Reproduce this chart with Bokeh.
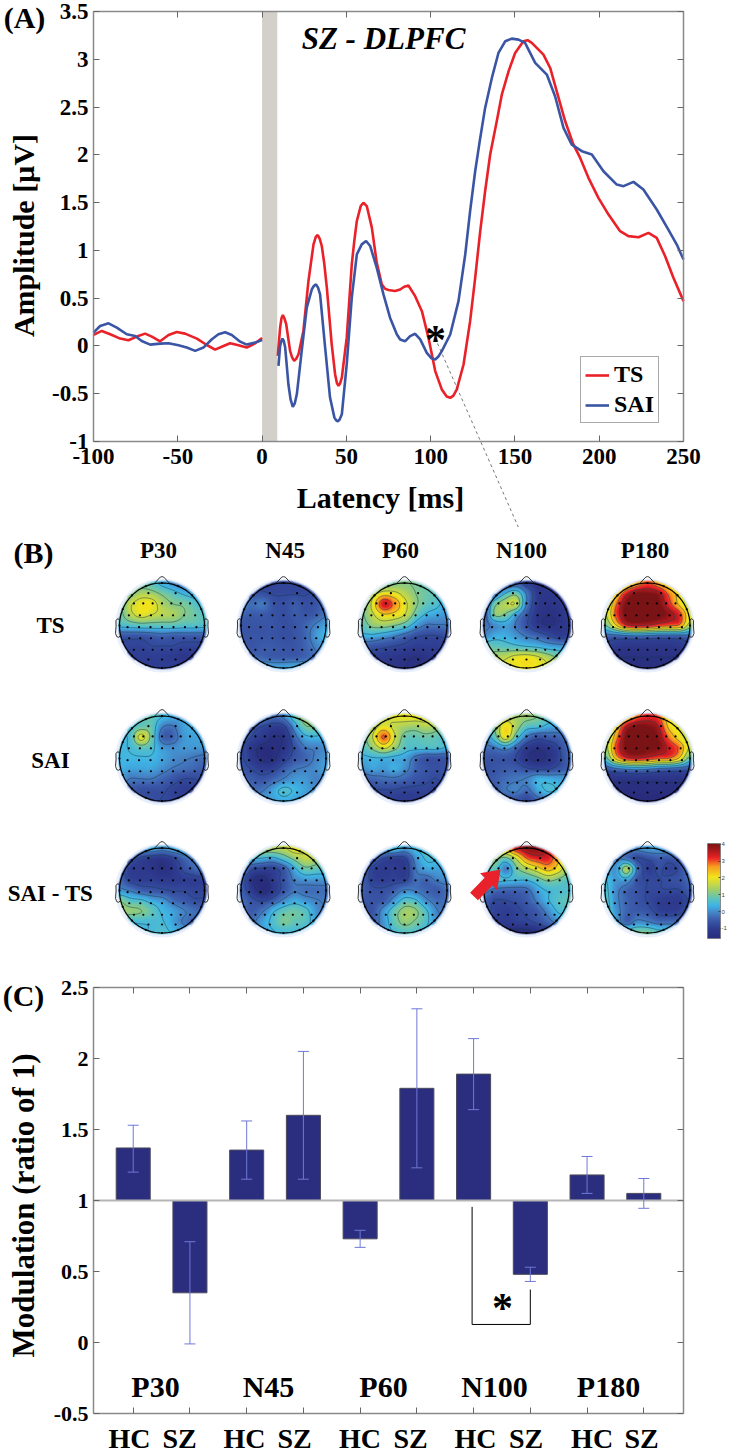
import numpy as np
from bokeh.embed import file_html
from bokeh.resources import INLINE
from bokeh.layouts import column
from bokeh.plotting import figure
from bokeh.models import (Range1d, LinearAxis, FixedTicker, Label, Legend, LegendItem, Arrow, Whisker, TeeHead,
                          ColumnDataSource, ColorBar, LinearColorMapper)
from bokeh.core.properties import value

# ---------- Panel A data ----------
ts_pre_ms = [-100,-95.1,-90.1,-84.2,-79.3,-74.3,-69.4,-65.4,-60.5,-55.5,-50.6,-45.7,-38.7,-32.8,-27.9,-22.9,-19,-14,-9.1,-4.1,0]
ts_pre_uv = [.115,.157,.122,.077,.059,.098,.129,.098,.049,.115,.146,.129,.077,.01,-.038,0,.028,.007,-.017,.028,.084]
sai_pre_ms = [-100,-96.1,-91.1,-86.2,-80.3,-75.3,-71.4,-66.4,-60.5,-55.5,-49.6,-44.7,-39.7,-34.8,-29.8,-25.9,-21.9,-18,-13,-9.1,-4.1,0]
sai_pre_uv = [.139,.209,.237,.192,.122,.105,.052,.014,.024,.028,.007,-.017,-.052,-.017,.07,.122,.143,.115,.045,.014,.035,.063]
ts_post_ms = [9.3,10.7,11.5,12.3,13.2,14.3,16.6,17.8,19,20.2,21.6,24.5,26,27.5,30.5,31.8,33,34.2,35.4,36.9,38.4,41.3,43.3,44.4,45.3,46.3,47.3,50.2,53.2,54.7,56.2,58.5,60.1,62.1,65.1,68,71,72.8,74.9,78.9,
              81.9,84.3,86.8,90.8,94.8,98.7,102.7,106.6,109.5,111.6,113.5,115.5,119.5,123.4,126.4,129.4,132.3,135.3,139.2,142.2,146.2,150.1,155,157.5,160,166.9,170.9,174.8,179.8,184.7,188.7,193.6,199.5,205.5,212.4,217.3,223.3,229.2,234.1,239.1,244,250]
ts_post_uv = [-.105,.192,.29,.324,.29,.227,-.052,-.12,-.157,-.135,-.087,.157,.42,.68,1.063,1.14,1.161,1.12,1.046,.86,.61,.017,-.296,-.39,-.418,-.39,-.331,.087,.854,1.1,1.308,1.464,1.499,1.464,1.238,.872,.645,.6,.586,.575,
              .591,.62,.633,.521,.364,.085,-.263,-.455,-.53,-.543,-.52,-.455,-.194,.259,.713,1.201,1.619,2.003,2.351,2.63,2.874,3.066,3.188,3.2,3.171,3.049,2.909,2.665,2.351,2.107,1.968,1.759,1.55,1.375,1.201,1.149,1.138,1.183,1.131,.939,.713,.469]
sai_post_ms = [9.7,10.7,11.4,12.1,12.9,13.7,15.6,16.9,18.2,19.4,20.6,23.5,26.5,29.5,30.8,32,33.2,34.4,37.4,40.3,42.9,44,44.9,46,47.3,50.2,53.2,56.2,59.1,61.7,64.1,68,72,75.9,79.9,
               81.9,84.9,87.8,90.8,93.8,97.7,100.5,102.7,104.6,106.6,111.6,116.5,120.5,123.4,126.4,129.4,132.3,136.3,140.2,144.2,148.1,152.1,156,162,168.9,173.8,178.8,183.7,189.7,195.6,202.5,210.4,214.4,220.3,226.2,234.1,241,246,250]
sai_post_uv = [-.209,0,.05,.077,.05,-.017,-.401,-.56,-.638,-.6,-.506,-.052,.401,.593,.63,.645,.61,.54,-.017,-.54,-.75,-.78,-.79,-.77,-.715,-.192,.506,.959,1.063,1.098,1.046,.819,.54,.296,.122,
               .068,.05,.103,.127,.068,-.072,-.13,-.142,-.11,-.054,.12,.469,.957,1.41,1.828,2.177,2.491,2.805,3.066,3.188,3.216,3.206,3.171,2.962,2.84,2.613,2.282,2.107,2.038,2.003,1.828,1.689,1.672,1.717,1.637,1.428,1.218,1.061,.904]
a_xticks = [-100,-50,0,50,100,150,200,250]
a_yticks = [-1,-0.5,0,0.5,1,1.5,2,2.5,3,3.5]
a_ylabels = ["-1","-0.5","0","0.5","1","1.5","2","2.5","3","3.5"]
stim_band = [0, 9]

# ---------- Panel C data ----------
bar_groups = ["P30","N45","P60","N100","P180"]
bar_tick_labels = ["HC","SZ"]*5
bar_values = [1.37,0.35,1.355,1.6,0.73,1.79,1.89,0.48,1.18,1.05]
bar_upper = [1.53,0.71,1.56,2.05,0.79,2.35,2.14,0.53,1.31,1.155]
bar_lower = [1.20,-0.01,1.15,1.15,0.67,1.23,1.64,0.43,1.05,0.945]
c_yticks = [-0.5,0,0.5,1,1.5,2,2.5]
c_ylabels = ["-0.5","0","0.5","1","1.5","2","2.5"]

# ---------- Panel B data: scalp maps read on a 9x9 grid, front to back ----------
ts_p30 = [[.6,.8,.8,.7,.3,0,-.3,-.3,-.3],[.8,1,1.4,1.3,1,.7,.4,.2,0],[.9,1.6,2,2,1.4,1.1,1,.7,.4],[.9,1.5,1.9,1.7,1.5,1.4,1.1,.9,.7],[.6,.7,.8,.8,.8,.8,.7,.7,.6],[-.6,-.6,-.6,-.5,-.4,-.5,-.5,-.5,-.5],[-.9,-.9,-.9,-.8,-.8,-.8,-.9,-.9,-.9],[-1,-1,-1,-1,-1,-1.1,-1.2,-1.1,-1],[-1,-1,-1,-1,-1,-1,-1,-1,-1]]
ts_n45 = [[-.9,-.9,-.9,-.9,-.9,-.9,-.9,-.9,-.9],[-.4,-.6,-.7,-.8,-.8,-.8,-.8,-.7,-.4],[-.2,-.3,-.2,-.6,-.7,-.5,-.7,-.6,-.3],[-.4,-.5,-.5,-.6,-.7,-.5,-.6,-.5,-.2],[-.6,-.6,-.6,-.6,-.7,-.6,-.4,-.1,.2],[-.6,-.6,-.6,-.6,-.7,-.6,-.4,.1,.4],[-.5,-.6,-.5,-.5,-.6,-.6,-.4,-.1,.2],[-.1,-.3,-.4,-.5,-.5,-.5,-.4,-.2,.1],[.3,.3,.3,.2,.2,.3,.3,.3,.3]]
ts_p60 = [[.2,.5,.8,1,1.1,1,.8,.6,.4],[.8,1.4,2,1.9,1.5,1.1,.9,.7,.3],[.9,1.9,3.4,2.8,1.9,1.2,.8,.6,.2],[1,1.6,2.2,2.1,1.7,.9,.4,.2,.1],[.8,1.2,1.3,1.1,.8,.2,-.2,-.2,-.2],[.3,.3,.1,-.1,-.4,-.7,-.8,-.8,-.7],[-.5,-.6,-.7,-.8,-.9,-1,-1,-1,-.9],[-.9,-1,-1.1,-1.2,-1.3,-1.4,-1.3,-1.1,-1],[-1.2,-1.2,-1.2,-1.3,-1.4,-1.4,-1.3,-1.2,-1.2]]
ts_n100 = [[-1,-1,-.8,-.6,-1,-1.3,-1.3,-1.2,-1],[-.9,-.4,.5,.9,-.2,-1.1,-1.2,-1.2,-1],[-.5,.9,1.5,1.6,-.2,-1.1,-1.3,-1.2,-1],[-.5,1.1,1,.2,-.6,-1.2,-1.4,-1.3,-1],[-.3,0,.2,-.2,-.7,-1.2,-1.4,-1.3,-1.1],[0,.3,.3,.1,-.2,-.4,-.7,-1,-.9],[.9,.8,.7,.6,.5,.4,.2,.1,0],[1.3,1.4,1.6,1.9,2,1.8,1.4,1,.8],[1.6,1.7,1.9,2,2.1,2,1.8,1.5,1.3]]
ts_p180 = [[.5,1,1.8,2.5,3,2.5,2,1.5,.8],[1,2,3.4,4,4,3.8,2.8,2,1],[1.4,2.8,4.1,4.2,4.2,4.1,3.2,2.2,1.4],[1.6,3,4.2,4.2,4.2,4.2,3.8,3.2,1.8],[1,2.2,3.4,3.6,3.5,3.2,3,2.8,1.4],[-.4,-.4,-.3,-.2,-.3,-.4,-.4,-.4,-.3],[-1,-1.1,-1.2,-1.2,-1.2,-1.2,-1.2,-1.1,-1],[-1.4,-1.4,-1.4,-1.4,-1.4,-1.4,-1.4,-1.4,-1.4],[-1.5,-1.5,-1.5,-1.5,-1.5,-1.5,-1.5,-1.5,-1.5]]
sai_p30 = [[.7,.8,.9,.8,.5,.3,.2,.2,.2],[.5,.6,.8,.8,-.1,-.2,.2,.3,.2],[.4,.6,1.9,.9,-.4,-.4,.1,.2,.2],[.4,.5,.8,.6,.1,0,.1,.1,.1],[.4,.4,.4,.4,.2,0,-.1,-.2,-.3],[.3,.2,.2,.2,0,-.2,-.3,-.4,-.5],[.1,-.2,-.2,-.2,-.4,-.6,-.8,-.8,-.7],[-.2,-.5,-.7,-.7,-.7,-.9,-1,-1,-.9],[-.3,-.5,-.7,-.7,-.8,-.9,-1,-1,-.9]]
sai_n45 = [[.4,.3,.1,-.3,0,.8,1.3,1.2,.9],[0,-.5,-.8,-1,-.9,.1,1,1,.7],[-.5,-.8,-1.1,-1.4,-1.3,-.4,.3,.4,.3],[-.7,-1.2,-1.5,-1.5,-1.3,-.7,-.2,-.1,0],[-.7,-1.1,-1.5,-1.5,-1,-.6,-.4,-.1,.1],[-.6,-.8,-1,-.9,-.5,-.2,-.1,0,.2],[-.4,-.5,-.6,-.4,-.1,.1,.1,-.1,0],[-.2,-.3,-.2,.2,.6,.4,.2,0,-.1],[-.1,-.1,.1,.2,.3,.2,.1,0,0]]
sai_p60 = [[1.2,1.4,1.6,1.9,2,2,1.9,1.6,1.2],[.9,1.4,1.9,1.6,1.4,1.3,1.5,1.3,.9],[.8,1.7,3,1.8,.9,.8,.9,.8,.6],[.7,1.2,1.8,1.3,.7,.6,.6,.6,.4],[.3,.4,.4,.3,.2,-.3,-.6,-.6,-.6],[0,.2,.1,.3,0,-.4,-.6,-.7,-.6],[-.5,-.4,-.3,-.3,-.4,-.6,-.7,-.8,-.6],[-.8,-.8,-.8,-.8,-.9,-.9,-.9,-1,-.9],[-1,-1,-1,-1,-1.1,-1.1,-1,-1,-1]]
sai_n100 = [[.5,1.1,1.3,1.3,1.3,1.1,.8,.7,.5],[.3,1.1,2.1,1.4,.7,.6,.3,.2,.1],[0,.8,2,.8,-.2,-.6,-.5,-.4,-.2],[-.3,-.2,.1,-.4,-1.1,-1.3,-1.2,-.8,-.3],[-.6,-.6,-.6,-.8,-1.3,-1.5,-1.3,-.9,-.4],[-.7,-.6,-.5,-.5,-.7,-.8,-.8,-.6,-.4],[-.6,-.5,-.3,-.2,-.1,.3,.3,.2,.1],[-.6,-.5,-.2,-.1,-.3,.2,.5,.4,.2],[-.8,-.7,-.6,-.6,-.8,-.4,-.1,0,0]]
sai_p180 = [[.6,1,2,2.8,3.2,3,2,1.6,1],[.9,2,3.6,4.1,4,3.6,2.2,1.8,1.2],[1.2,2.6,4.1,4.2,4.1,3.9,2.8,2,1.4],[1.4,3,4.1,4.2,4.1,4,3.4,2.8,1.6],[.8,2.4,3.3,3.5,3.3,3,2.9,2.2,.8],[-.6,-.3,-.1,0,-.1,-.3,-.4,-.5,-.6],[-1.3,-1.3,-1.3,-1.3,-1.3,-1.3,-1.3,-1.3,-1.3],[-1.5,-1.5,-1.5,-1.5,-1.5,-1.5,-1.5,-1.5,-1.5],[-1.6,-1.6,-1.6,-1.6,-1.6,-1.6,-1.6,-1.6,-1.6]]
dif_p30 = [[.1,.1,.2,.3,.1,.3,.4,.3,.2],[0,-.5,-.9,-1.1,-1.2,-.9,-.4,-.1,0],[-.5,-1,-1.1,-1.2,-1.4,-1.2,-.7,-.4,-.2],[-.4,-.9,-1,-1,-1.1,-1.1,-1,-1,-.9],[0,-.2,-.5,-.6,-.7,-.8,-.8,-.9,-.9],[1.1,.7,.6,.3,.1,-.3,-.5,-.7,-.7],[1.2,1.2,1.1,.8,.4,.2,-.1,-.3,-.4],[.7,.5,.5,.5,.5,.2,-.2,-.4,-.4],[.5,.4,.4,.5,.6,.4,.2,0,0]]
dif_n45 = [[.6,1,1.4,1.5,1.6,2,1.7,1.4,1],[.3,.5,.4,.3,.7,1.2,1.6,1.4,1],[-.1,-.7,-.9,-.9,-.5,.3,.9,.8,.7],[-.5,-1.3,-1.6,-1.1,-.6,-.1,.1,.1,.1],[-.5,-1.1,-1.6,-1.2,-.6,-.2,-.3,-.3,-.3],[-.3,-.6,-.8,-.5,0,.3,.1,-.1,-.2],[-.3,-.5,-.2,.4,.8,.9,.7,.1,-.2],[-.3,-.3,.2,.6,1,.8,.7,.2,-.2],[-.4,-.3,.1,.4,.5,.5,.4,.2,-.2]]
dif_p60 = [[.2,.3,.5,.6,.2,.5,.6,.5,.2],[0,-.3,-.8,-1,-.9,0,.5,.5,.3],[-.3,-.9,-1.1,-1,-1.1,-.2,.2,.2,.2],[-.5,-.9,-1,-.9,-.9,-.3,-.4,-.1,0],[-.5,-.7,-.7,-.5,-.1,-.2,-.4,-.5,-.3],[-.6,-.6,-.5,.1,.7,.6,0,-.3,-.3],[-.7,-.6,.1,.8,1.3,1.2,.6,-.1,-.2],[-.7,-.5,.1,.8,1.2,1,.6,0,-.3],[-.7,-.5,0,.5,.7,.6,.3,0,-.2]]
dif_n100 = [[1.5,2,2.6,3.4,3.9,3.9,3.4,2.5,1.8],[1,1.3,.9,1.7,2.9,3.3,3.3,2.4,1.5],[.6,.8,-.1,.9,1.5,2,2.5,2,1.2],[.5,.6,.5,.5,.5,.8,1.2,1,.7],[0,-.3,-.4,-.4,-.3,.2,.5,.6,.6],[-.5,-.8,-.8,-.7,-.5,-.1,.4,.7,.8],[-.6,-.9,-1,-.9,-.7,-.5,0,.5,.5],[-.9,-1.1,-1.1,-1,-.9,-.7,-.4,0,.2],[-1.2,-1.4,-1.5,-1.6,-1.6,-1.4,-1.1,-.8,-.6]]
dif_p180 = [[.2,.1,0,0,.2,.2,.2,.2,.1],[.2,-.1,-.3,-.8,-.7,-.5,-.6,-.4,0],[.3,.1,1.4,-.2,-1,-.7,-.9,-.7,-.1],[.5,.1,.2,-.6,-.8,-.8,-.7,-.6,-.3],[.6,0,-.4,-.6,-.8,-.8,-.8,-.8,-.5],[.7,0,-.4,-.6,-.8,-1,-1.1,-1.1,-.7],[.8,.1,-.4,-.5,-.6,-.9,-1,-.9,-.5],[1,.3,-.4,0,-.1,-.3,-.3,-.3,-.2],[1.2,.9,.9,1,1,.7,.6,.3,.2]]
map_rows = [("TS",[ts_p30,ts_n45,ts_p60,ts_n100,ts_p180]),
            ("SAI",[sai_p30,sai_n45,sai_p60,sai_n100,sai_p180]),
            ("SAI - TS",[dif_p30,dif_n45,dif_p60,dif_n100,dif_p180])]
map_titles = ["P30","N45","P60","N100","P180"]
cbar_ticks = [-1,0,1,2,3,4]
color_stops = [(-1.6,"#292c7c"),(-1.0,"#2f3e92"),(-.5,"#3c5bab"),(-.1,"#4681c4"),(.35,"#3fb4e6"),(.75,"#5cc3c0"),(1.2,"#93cc7a"),(1.6,"#c4d84a"),(2.05,"#f2e61c"),(2.7,"#f89a1f"),(3.2,"#ec2226"),(3.6,"#b01b1e"),(4.05,"#7a1315")]

# electrode layout in head radius units
elec_rows = [(-.76,[-.32,.32]),(-.52,[-.66,-.44,-.22,0,.22,.44,.66]),(-.24,[-.78,-.52,-.26,0,.26,.52,.78]),
             (.04,[-.81,-.54,-.27,0,.27,.54,.81]),(.30,[-.77,-.51,-.26,0,.26,.51,.77]),(.57,[-.66,-.44,-.22,0,.22,.44,.66]),(.80,[-.32,0,.32])]
ear_x = [.994,1.02,1.036,1.06,1.084,1.08,1.094,1.064,1.02,.978]
ear_y = [.111,.155,.157,.149,.111,-.011,-.186,-.263,-.277,-.24]
nose_x = [.18,.04,0,-.04,-.18]
nose_y = [.99,1.14,1.15,1.14,.99]

FONT = "Liberation Serif"
W = 729
AXC = "#8a8a8a"

def hexrgb(h):
    return [int(h[i:i+2],16) for i in (1,3,5)]
sv = np.array([s[0] for s in color_stops])
sc = np.array([hexrgb(s[1]) for s in color_stops],float)
def cmap(z):
    return np.stack([np.interp(z,sv,sc[:,k]) for k in range(3)],-1)
palette = ["#%02x%02x%02x"%tuple(int(c) for c in cmap(v)) for v in np.linspace(-1.6,4.05,256)]

def style_axis(ax, ticks, over, fs, loc, bounds, standoff=5):
    ax.ticker = FixedTicker(ticks=ticks)
    ax.major_label_overrides = {t:l for t,l in zip(ticks,over)}
    ax.fixed_location = loc
    ax.bounds = bounds
    ax.major_tick_in = 6; ax.major_tick_out = 0
    ax.minor_tick_line_color = None
    ax.axis_line_color = AXC; ax.axis_line_width = 1.5
    ax.major_tick_line_color = "#666666"
    ax.major_label_text_font = FONT; ax.major_label_text_font_style = "bold"
    ax.major_label_text_font_size = fs; ax.major_label_text_color = "black"
    ax.major_label_standoff = standoff

def box_axes(p, xticks, yticks, xover, yover, fs, xb, yb):
    style_axis(p.xaxis[0], xticks, xover, fs, yb[0], xb, 7)
    style_axis(p.yaxis[0], yticks, yover, fs, xb[0], yb, 5)
    top = LinearAxis(); right = LinearAxis()
    p.add_layout(top,"above"); p.add_layout(right,"right")
    style_axis(top, xticks, ["" for _ in xticks], "1px", yb[1], xb)
    style_axis(right, yticks, ["" for _ in yticks], "1px", xb[1], yb)
    p.grid.visible = False
    p.outline_line_color = None

def add_label(p, tx, x, y, size, style="bold", angle=0, color="black", align="center"):
    p.add_layout(Label(x=x, y=y, text=tx, text_font=FONT, text_font_style=style, text_font_size=f"{size}px",
                       text_align=align, text_baseline="middle", angle=angle, text_color=color))

# ================= Panel A =================
ax_ = lambda px: (px-261.6)/(590/350)
ay_ = lambda py: -1+(441-py)*4.5/430
HA = 527
pa = figure(width=W, height=HA, x_range=Range1d(ax_(0),ax_(W)), y_range=Range1d(ay_(HA),ay_(0)), output_backend="svg",
            toolbar_location=None, min_border=0)
box_axes(pa, a_xticks, a_yticks, [str(t) for t in a_xticks], a_ylabels, "23px", (-100,250), (-1,3.5))
pa.quad(left=stim_band[0], right=stim_band[1], bottom=-1, top=3.5, fill_color="#d3d0c9", line_color=None)
r1 = pa.line(ts_pre_ms, ts_pre_uv, line_color="#ea2129", line_width=2.6)
pa.line(ts_post_ms, ts_post_uv, line_color="#ea2129", line_width=2.6)
r2 = pa.line(sai_pre_ms, sai_pre_uv, line_color="#3b55a5", line_width=2.6)
pa.line(sai_post_ms, sai_post_uv, line_color="#3b55a5", line_width=2.6)
pa.add_layout(Arrow(end=None, x_start=ax_(437), y_start=ay_(343), x_end=ax_(518), y_end=ay_(527),
                    line_color="#555555", line_width=0.8, line_dash="3 3"))
leg = Legend(items=[LegendItem(label=value("TS"),renderers=[r1]),LegendItem(label=value("SAI"),renderers=[r2])],
             location=(580,HA-423), glyph_width=24, glyph_height=24, label_height=24, spacing=3, padding=4, margin=0,
             label_standoff=5, label_text_font=FONT, label_text_font_style="bold", label_text_font_size="24px", label_text_color="black",
             border_line_color="#555555", border_line_width=1, background_fill_alpha=1)
pa.add_layout(leg)
add_label(pa,"(A)",ax_(24),ay_(17),30)
add_label(pa,"SZ - DLPFC",ax_(383),ay_(38),31,style="bold italic")
add_label(pa,"*",ax_(435),ay_(339),42)
add_label(pa,"Latency [ms]",ax_(380),ay_(497),30)
add_label(pa,"Amplitude [µV]",ax_(23),ay_(235),30,angle=np.pi/2)

# ================= Panel B =================
top_b, h_b = 527, 413
pb = figure(width=W, height=h_b, x_range=Range1d(0,W), y_range=Range1d(0,h_b), output_backend="svg",
            toolbar_location=None, min_border=0)
pb.axis.visible = False; pb.grid.visible = False; pb.outline_line_color = None
Y = lambda py: top_b+h_b-py

def cr_weights(n, t):
    # Catmull-Rom resampling weights from n nodes to positions t (node units)
    W_ = np.zeros((len(t),n))
    for k,u in enumerate(t):
        i = int(np.clip(np.floor(u),0,n-2)); f = u-i
        c = [(-f**3+2*f**2-f)/2,(3*f**3-5*f**2+2)/2,(-3*f**3+4*f**2+f)/2,(f**3-f**2)/2]
        for j,w in zip((i-1,i,i+1,i+2),c):
            W_[k,int(np.clip(j,0,n-1))] += w
    return W_

col_x = [161.5,283,404,526,647]
row_y = [625,758,890]
R = 42.5; HALO = 47; EXT = 1.08
N = 96
uu = np.linspace(-EXT,EXT,N)
tt = (uu+1)/2*8
Wt = cr_weights(9,np.clip(tt,0,8))
UU,VV = np.meshgrid(uu,uu)   # VV positive = towards the back of the head
RR = np.hypot(UU,VV)
th = np.linspace(0,2*np.pi,121)
ex = []; ey = []
for yy,xs in elec_rows:
    for x_ in xs:
        ex.append(x_); ey.append(yy)
for a in np.arange(0,360,22.5):
    ex.append(np.cos(np.radians(a))); ey.append(np.sin(np.radians(a)))
ex = np.array(ex); ey = np.array(ey)

for ri,(rname,maps) in enumerate(map_rows):
    cy = row_y[ri]
    for ci,grid in enumerate(maps):
        cx = col_x[ci]
        Z = Wt @ np.array(grid,float) @ Wt.T
        Z = np.clip(Z,-1.6,4.05)
        pb.circle([cx],[Y(cy)],radius=HALO,fill_color="#e9f0fb",line_color=None)
        rgb = cmap(Z)
        alpha = np.clip((1.06-RR)/0.035,0,1)*255
        img = np.zeros((N,N),dtype=np.uint32)
        v = img.view(dtype=np.uint8).reshape((N,N,4))
        v[...,0]=rgb[...,0]; v[...,1]=rgb[...,1]; v[...,2]=rgb[...,2]; v[...,3]=alpha
        # image rows run upward in data space, so flip to keep the front of the head on top
        pb.image_rgba(image=[img[::-1]], x=cx-EXT*R, y=Y(cy)-EXT*R, dw=2*EXT*R, dh=2*EXT*R)
        Zc = np.where(RR<=1.0, Z, np.nan)
        pb.contour(cx+uu*R, Y(cy)-uu[::1]*R, Zc, levels=list(np.arange(-1.4,4.2,0.62)),
                   line_color="#123a4a", line_alpha=0.8, line_width=0.6)
        pb.line(cx+np.cos(th)*R, Y(cy)+np.sin(th)*R, line_color="black", line_width=1.2)
        pb.line(cx+np.array(nose_x)*R, Y(cy)+np.array(nose_y)*R, line_color="#222222", line_width=0.9)
        pb.line(cx+np.array(ear_x)*R, Y(cy)+np.array(ear_y)*R, line_color="#222222", line_width=0.9)
        pb.line(cx-np.array(ear_x)*R, Y(cy)+np.array(ear_y)*R, line_color="#222222", line_width=0.9)
        pb.scatter(cx+ex*R, Y(cy)-ey*R, size=2.2, marker="circle", fill_color="black", line_color=None)

for xt,name in zip([158,284.6,400,521,644.6],map_titles):
    add_label(pb,name,xt,Y(550),23)
for name,py in zip([r[0] for r in map_rows],[625,760,893]):
    add_label(pb,name,50,Y(py),23)
add_label(pb,"(B)",33,Y(552),30)

# red arrow
tip = np.array([500.,869.]); tail = np.array([473.5,896.])
d = (tip-tail)/np.linalg.norm(tip-tail); n = np.array([-d[1],d[0]])
neck = tip-d*17
pts = [tail+n*5.5, neck+n*5.5, neck+n*12, tip, neck-n*12, neck-n*5.5, tail-n*5.5]
pb.patch([q[0] for q in pts],[Y(q[1]) for q in pts],fill_color="#e8212a",line_color=None)

mapper = LinearColorMapper(palette=palette, low=-1.6, high=4.05)
cb = ColorBar(color_mapper=mapper, ticker=FixedTicker(ticks=cbar_ticks), location=(707,Y(938)), width=13, height=95,
              padding=0, margin=0, major_label_text_font="Liberation Sans", major_label_text_font_size="6px",
              major_label_text_color="#444444", major_tick_line_color="#444444", major_tick_in=2, label_standoff=1,
              bar_line_color="#777777", bar_line_width=0.8, minor_tick_line_color=None,
              major_label_overrides={t:str(t) for t in cbar_ticks})
pb.add_layout(cb)

# ================= Panel C =================
bx = list(range(1,11))
cx_ = lambda px: .3+(px-93)*10.4/590
cy_ = lambda py: -.5+(1413-py)*3/426
pc = figure(width=W, height=514, x_range=Range1d(cx_(0),cx_(W)), y_range=Range1d(cy_(1454),cy_(940)), output_backend="svg",
            toolbar_location=None, min_border=0)
box_axes(pc, bx, c_yticks, ["" for _ in bx], c_ylabels, "22px", (0.3,10.7), (-0.5,2.5))
pc.vbar(x=bx, width=0.6, bottom=1, top=bar_values, fill_color="#2b2e7e", line_color="#4a4a5a", line_width=1)
pc.line([0.3,10.7],[1,1],line_color="#b5b5b5",line_width=2)
wsrc = ColumnDataSource(dict(base=bx, upper=bar_upper, lower=bar_lower))
EB = "#6f78d6"
pc.add_layout(Whisker(source=wsrc, base="base", upper="upper", lower="lower", line_color=EB, line_width=1, level="overlay",
                      upper_head=TeeHead(size=11,line_color=EB,line_width=1), lower_head=TeeHead(size=11,line_color=EB,line_width=1)))
pc.line([cx_(471.6),cx_(471.6),8,8],[.955,.127,.127,.373],line_color="black",line_width=1)
add_label(pc,"*",cx_(502),cy_(1307),42)
add_label(pc,"(C)",cx_(23),cy_(995),30)
add_label(pc,"Modulation (ratio of 1)",cx_(23),cy_(1205),31,angle=np.pi/2)
for g,px in zip(bar_groups,[155,268,383,494,608]):
    add_label(pc,g,cx_(px),cy_(1386),30)
for i,(t,px) in enumerate(zip(bar_tick_labels,[129,179,244,294,359.5,410,475,525.6,591.6,641])):
    add_label(pc,t,cx_(px),cy_(1437.5),28)

lay = column(pa,pb,pc,spacing=0,margin=0)
open("out.html","w").write(file_html(lay,INLINE))
